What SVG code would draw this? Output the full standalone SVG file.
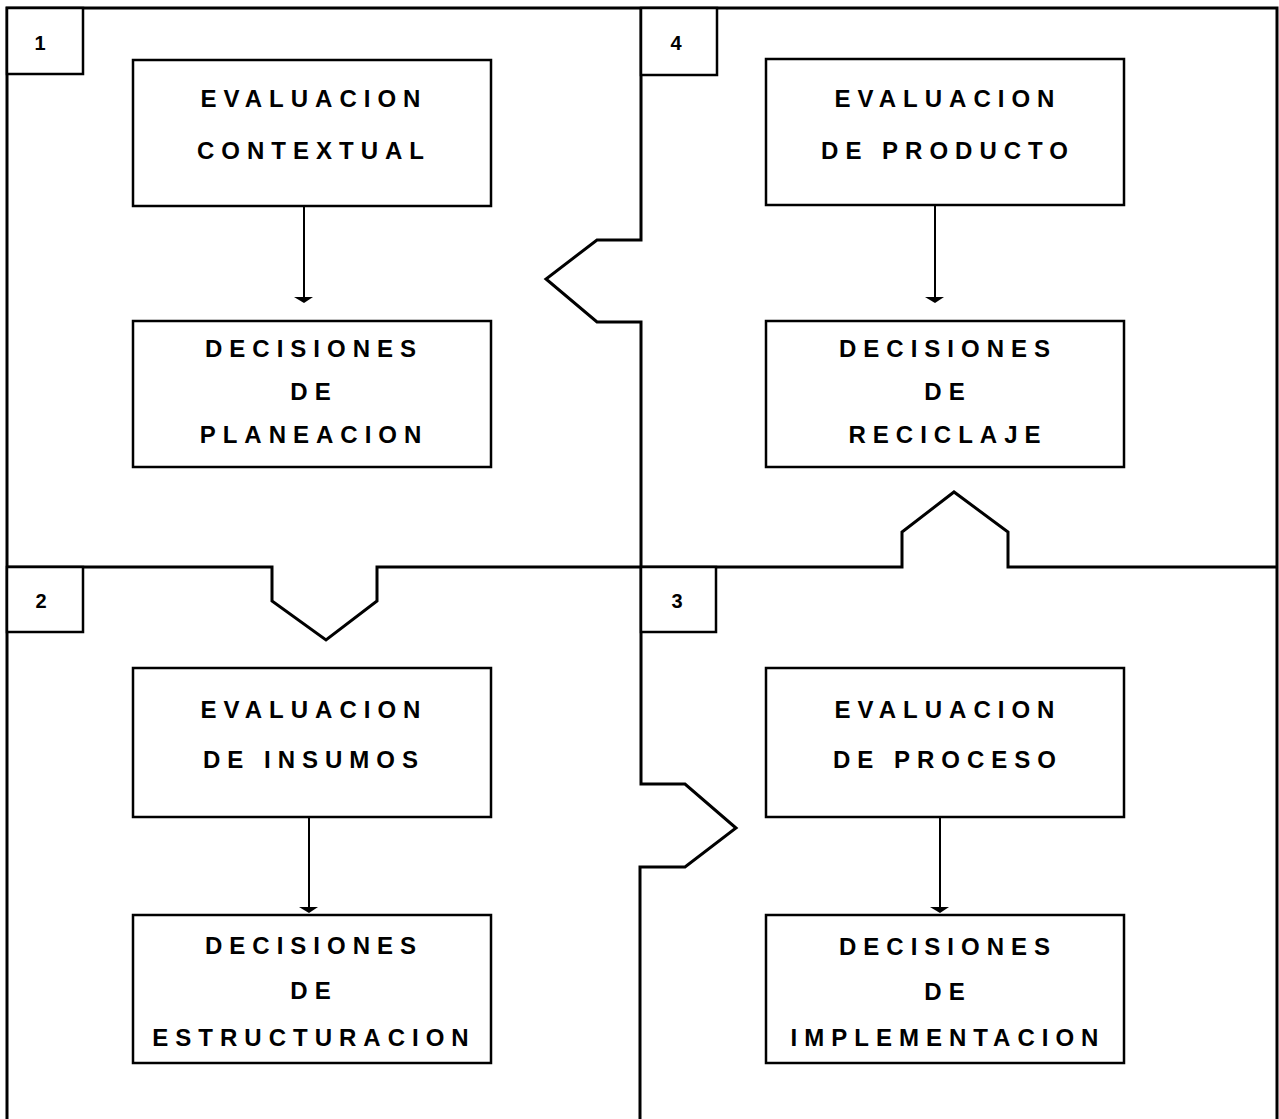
<svg xmlns="http://www.w3.org/2000/svg" width="1279" height="1119" viewBox="0 0 1279 1119">
<defs>
<style>
.frame{fill:none;stroke:#000;stroke-width:3;stroke-linejoin:miter}
.box{fill:#fff;stroke:#000;stroke-width:2.5}
.t{font-family:"Liberation Sans",Arial,sans-serif;font-weight:bold;font-size:24px;letter-spacing:7px;text-anchor:middle;fill:#000}
.n{font-family:"Liberation Sans",Arial,sans-serif;font-weight:bold;font-size:20px;text-anchor:middle;fill:#000}
.ln{stroke:#000;stroke-width:2}
</style>
</defs>
<rect width="1279" height="1119" fill="#fff"/>
<g id="frame">
<path class="frame" d="M7,1119 L7,8 L1277,8 L1277,1119"/>
<path class="frame" d="M641,8 L641,240 L597,240 L546,279 L597,322 L641,322 L641,784 L685,784 L736,828 L685,867 L640,867 L640,1119"/>
<path class="frame" d="M7,567 L272,567 L272,601 L326,640 L377,601 L377,567 L902,567 L902,532 L954,492 L1008,532 L1008,567 L1277,567"/>
</g>
<g id="num1"><rect class="box" x="7" y="8" width="76" height="66"/><text class="n" x="40" y="50">1</text></g>
<g id="num4"><rect class="box" x="641" y="8" width="76" height="67"/><text class="n" x="676" y="50">4</text></g>
<g id="num2"><rect class="box" x="7" y="567" width="76" height="65"/><text class="n" x="41" y="608">2</text></g>
<g id="num3"><rect class="box" x="641" y="567" width="75" height="65"/><text class="n" x="677" y="608">3</text></g>
<g id="connectors">
<path d="M304,207 L304,297" class="ln"/><path d="M294,297 L313,297 L304,303 Z" fill="#000"/>
<path d="M935,206 L935,297" class="ln"/><path d="M925,297 L944,297 L935,303 Z" fill="#000"/>
<path d="M309,818 L309,907" class="ln"/><path d="M299,907 L318,907 L309,913 Z" fill="#000"/>
<path d="M940,818 L940,907" class="ln"/><path d="M930,907 L949,907 L940,913 Z" fill="#000"/>
</g>
<g id="n-eval-contextual"><rect class="box" x="133" y="60" width="358" height="146"/>
<text class="t" x="314" y="107">EVALUACION</text><text class="t" x="314" y="159">CONTEXTUAL</text></g>
<g id="n-dec-planeacion"><rect class="box" x="133" y="321" width="358" height="146"/>
<text class="t" x="314" y="357">DECISIONES</text><text class="t" x="314" y="400">DE</text><text class="t" x="314" y="443">PLANEACION</text></g>
<g id="n-eval-producto"><rect class="box" x="766" y="59" width="358" height="146"/>
<text class="t" x="948" y="107">EVALUACION</text><text class="t" x="948" y="159">DE PRODUCTO</text></g>
<g id="n-dec-reciclaje"><rect class="box" x="766" y="321" width="358" height="146"/>
<text class="t" x="948" y="357">DECISIONES</text><text class="t" x="948" y="400">DE</text><text class="t" x="948" y="443">RECICLAJE</text></g>
<g id="n-eval-insumos"><rect class="box" x="133" y="668" width="358" height="149"/>
<text class="t" x="314" y="718">EVALUACION</text><text class="t" x="314" y="768">DE INSUMOS</text></g>
<g id="n-dec-estructuracion"><rect class="box" x="133" y="915" width="358" height="148"/>
<text class="t" x="314" y="954">DECISIONES</text><text class="t" x="314" y="999">DE</text><text class="t" x="314" y="1046">ESTRUCTURACION</text></g>
<g id="n-eval-proceso"><rect class="box" x="766" y="668" width="358" height="149"/>
<text class="t" x="948" y="718">EVALUACION</text><text class="t" x="948" y="768">DE PROCESO</text></g>
<g id="n-dec-implementacion"><rect class="box" x="766" y="915" width="358" height="148"/>
<text class="t" x="948" y="955">DECISIONES</text><text class="t" x="948" y="1000">DE</text><text class="t" x="948" y="1046">IMPLEMENTACION</text></g>
</svg>
